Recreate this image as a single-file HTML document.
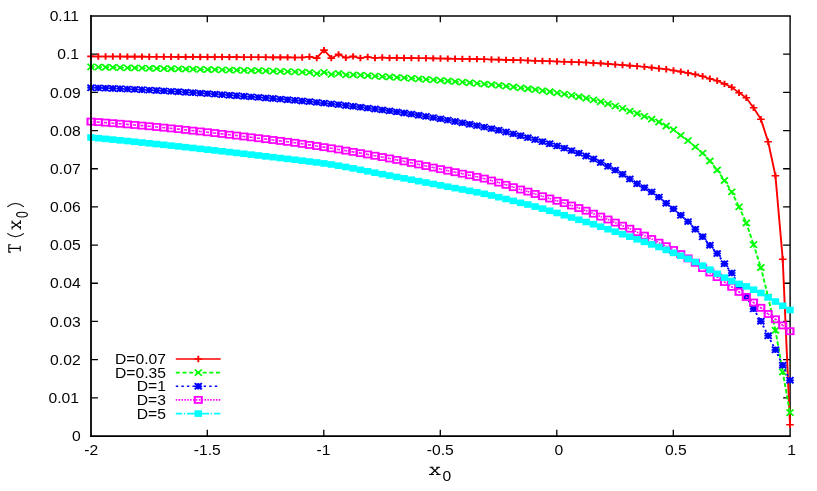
<!DOCTYPE html><html><head><meta charset="utf-8"><title>T(x0) plot</title>
<style>html,body{margin:0;padding:0;background:#fff}svg{display:block}text{font-family:"Liberation Sans",sans-serif;font-size:14px;fill:#000}</style></head><body>
<svg width="817" height="491" viewBox="0 0 817 491">
<rect width="817" height="491" fill="#fff"/>
<defs>
<g id="pl"><path d="M-3.17,0H3.17M0,-3.2V3.2" fill="none" stroke="#f00" stroke-width="1.6"/></g>
<g id="cr"><path d="M-2.92,-3.1L2.92,3.1M-2.92,3.1L2.92,-3.1" fill="none" stroke="#0f0" stroke-width="1.6"/></g>
<g id="st"><path d="M-3.17,0H3.17M0,-3.2V3.2M-2.92,-3.1L2.92,3.1M-2.92,3.1L2.92,-3.1" fill="none" stroke="#00f" stroke-width="1.7"/></g>
<g id="sq"><rect x="-2.92" y="-3.05" width="5.83" height="6.1" fill="none" stroke="#f0f" stroke-width="1.75"/></g>
<g id="fs"><rect x="-3.12" y="-3.3" width="6.25" height="6.6" fill="#0ff"/></g>
</defs>
<g stroke="#000" fill="none" stroke-linecap="butt">
<path d="M90.05,16.1H790.8" stroke-width="1.5"/>
<path d="M90.05,436.1H790.8" stroke-width="1.55"/>
<path d="M790.1,16.0V436.0" stroke-width="1.4"/>
<path d="M91.0,397.82h6.9 M790.0,397.82h-6.9 M91.0,359.64h6.9 M790.0,359.64h-6.9 M91.0,321.45h6.9 M790.0,321.45h-6.9 M91.0,283.27h6.9 M790.0,283.27h-6.9 M91.0,245.09h6.9 M790.0,245.09h-6.9 M91.0,206.91h6.9 M790.0,206.91h-6.9 M91.0,168.73h6.9 M790.0,168.73h-6.9 M91.0,130.55h6.9 M790.0,130.55h-6.9 M91.0,92.36h6.9 M790.0,92.36h-6.9 M91.0,54.18h6.9 M790.0,54.18h-6.9 M207.3,436.0v-6.3 M207.3,16.0v6.3 M323.8,436.0v-6.3 M323.8,16.0v6.3 M440.3,436.0v-6.3 M440.3,16.0v6.3 M556.8,436.0v-6.3 M556.8,16.0v6.3 M673.3,436.0v-6.3 M673.3,16.0v6.3 " stroke-width="1.3"/>
</g>
<g transform="scale(1.2,1)">
<polyline points="75.83,56.4 81.9,56.44 87.97,56.47 94.04,56.51 100.1,56.54 106.17,56.58 112.24,56.62 118.31,56.65 124.38,56.69 130.44,56.73 136.51,56.77 142.58,56.8 148.65,56.84 154.71,56.88 160.78,56.92 166.85,56.95 172.92,56.99 178.98,57.03 185.05,57.07 191.12,57.11 197.19,57.15 203.26,57.18 209.32,57.22 215.39,57.26 221.46,57.3 227.53,57.34 233.59,57.38 239.66,57.41 245.73,57.45 251.8,57.48 257.86,56.7 263.93,58.1 270,50.1 276.07,58.1 282.14,54.4 288.2,57.8 294.27,56.4 300.34,58 306.41,57 312.47,58 318.54,57.5 324.61,58 330.68,57.8 336.74,58.07 342.81,58.14 348.88,58.23 354.95,58.32 361.02,58.42 367.08,58.52 373.15,58.63 379.22,58.75 385.29,58.88 391.35,59.01 397.42,59.14 403.49,59.28 409.56,59.44 415.62,59.63 421.69,59.85 427.76,60.08 433.83,60.32 439.9,60.57 445.96,60.8 452.03,61.03 458.1,61.25 464.17,61.47 470.23,61.7 476.3,61.95 482.37,62.23 488.44,62.55 494.51,62.94 500.57,63.4 506.64,63.91 512.71,64.45 518.78,65 524.84,65.6 530.91,66.2 536.98,66.8 543.05,67.6 549.11,68.5 555.18,69.3 561.25,70.5 567.32,71.6 573.39,73 579.45,74.4 585.52,76.2 591.59,78.7 597.66,80.7 603.72,83.9 609.79,87.3 615.86,92.7 621.93,97.8 627.99,107.8 634.06,119.2 640.13,141.8 646.2,175.7 652.27,259.2 658.33,424.7" fill="none" stroke="#f00" stroke-width="1.6" stroke-linejoin="round"/>
<g><use href="#pl" x="75.83" y="56.4"/><use href="#pl" x="81.9" y="56.44"/><use href="#pl" x="87.97" y="56.47"/><use href="#pl" x="94.04" y="56.51"/><use href="#pl" x="100.1" y="56.54"/><use href="#pl" x="106.17" y="56.58"/><use href="#pl" x="112.24" y="56.62"/><use href="#pl" x="118.31" y="56.65"/><use href="#pl" x="124.38" y="56.69"/><use href="#pl" x="130.44" y="56.73"/><use href="#pl" x="136.51" y="56.77"/><use href="#pl" x="142.58" y="56.8"/><use href="#pl" x="148.65" y="56.84"/><use href="#pl" x="154.71" y="56.88"/><use href="#pl" x="160.78" y="56.92"/><use href="#pl" x="166.85" y="56.95"/><use href="#pl" x="172.92" y="56.99"/><use href="#pl" x="178.98" y="57.03"/><use href="#pl" x="185.05" y="57.07"/><use href="#pl" x="191.12" y="57.11"/><use href="#pl" x="197.19" y="57.15"/><use href="#pl" x="203.26" y="57.18"/><use href="#pl" x="209.32" y="57.22"/><use href="#pl" x="215.39" y="57.26"/><use href="#pl" x="221.46" y="57.3"/><use href="#pl" x="227.53" y="57.34"/><use href="#pl" x="233.59" y="57.38"/><use href="#pl" x="239.66" y="57.41"/><use href="#pl" x="245.73" y="57.45"/><use href="#pl" x="251.8" y="57.48"/><use href="#pl" x="257.86" y="56.7"/><use href="#pl" x="263.93" y="58.1"/><use href="#pl" x="270" y="50.1"/><use href="#pl" x="276.07" y="58.1"/><use href="#pl" x="282.14" y="54.4"/><use href="#pl" x="288.2" y="57.8"/><use href="#pl" x="294.27" y="56.4"/><use href="#pl" x="300.34" y="58"/><use href="#pl" x="306.41" y="57"/><use href="#pl" x="312.47" y="58"/><use href="#pl" x="318.54" y="57.5"/><use href="#pl" x="324.61" y="58"/><use href="#pl" x="330.68" y="57.8"/><use href="#pl" x="336.74" y="58.07"/><use href="#pl" x="342.81" y="58.14"/><use href="#pl" x="348.88" y="58.23"/><use href="#pl" x="354.95" y="58.32"/><use href="#pl" x="361.02" y="58.42"/><use href="#pl" x="367.08" y="58.52"/><use href="#pl" x="373.15" y="58.63"/><use href="#pl" x="379.22" y="58.75"/><use href="#pl" x="385.29" y="58.88"/><use href="#pl" x="391.35" y="59.01"/><use href="#pl" x="397.42" y="59.14"/><use href="#pl" x="403.49" y="59.28"/><use href="#pl" x="409.56" y="59.44"/><use href="#pl" x="415.62" y="59.63"/><use href="#pl" x="421.69" y="59.85"/><use href="#pl" x="427.76" y="60.08"/><use href="#pl" x="433.83" y="60.32"/><use href="#pl" x="439.9" y="60.57"/><use href="#pl" x="445.96" y="60.8"/><use href="#pl" x="452.03" y="61.03"/><use href="#pl" x="458.1" y="61.25"/><use href="#pl" x="464.17" y="61.47"/><use href="#pl" x="470.23" y="61.7"/><use href="#pl" x="476.3" y="61.95"/><use href="#pl" x="482.37" y="62.23"/><use href="#pl" x="488.44" y="62.55"/><use href="#pl" x="494.51" y="62.94"/><use href="#pl" x="500.57" y="63.4"/><use href="#pl" x="506.64" y="63.91"/><use href="#pl" x="512.71" y="64.45"/><use href="#pl" x="518.78" y="65"/><use href="#pl" x="524.84" y="65.6"/><use href="#pl" x="530.91" y="66.2"/><use href="#pl" x="536.98" y="66.8"/><use href="#pl" x="543.05" y="67.6"/><use href="#pl" x="549.11" y="68.5"/><use href="#pl" x="555.18" y="69.3"/><use href="#pl" x="561.25" y="70.5"/><use href="#pl" x="567.32" y="71.6"/><use href="#pl" x="573.39" y="73"/><use href="#pl" x="579.45" y="74.4"/><use href="#pl" x="585.52" y="76.2"/><use href="#pl" x="591.59" y="78.7"/><use href="#pl" x="597.66" y="80.7"/><use href="#pl" x="603.72" y="83.9"/><use href="#pl" x="609.79" y="87.3"/><use href="#pl" x="615.86" y="92.7"/><use href="#pl" x="621.93" y="97.8"/><use href="#pl" x="627.99" y="107.8"/><use href="#pl" x="634.06" y="119.2"/><use href="#pl" x="640.13" y="141.8"/><use href="#pl" x="646.2" y="175.7"/><use href="#pl" x="652.27" y="259.2"/><use href="#pl" x="658.33" y="424.7"/></g>
<path d="M75.83,66.9L81.9,67.08M81.9,67.08L87.97,67.26M87.97,67.26L94.04,67.43M94.04,67.43L100.1,67.61M100.1,67.61L106.17,67.78M106.17,67.78L112.24,67.95M112.24,67.95L118.31,68.12M118.31,68.12L124.38,68.28M124.38,68.28L130.44,68.45M130.44,68.45L136.51,68.6M136.51,68.6L142.58,68.76M142.58,68.76L148.65,68.91M148.65,68.91L154.71,69.06M154.71,69.06L160.78,69.22M160.78,69.22L166.85,69.38M166.85,69.38L172.92,69.54M172.92,69.54L178.98,69.71M178.98,69.71L185.05,69.87M185.05,69.87L191.12,70.04M191.12,70.04L197.19,70.2M197.19,70.2L203.26,70.37M203.26,70.37L209.32,70.54M209.32,70.54L215.39,70.72M215.39,70.72L221.46,70.92M221.46,70.92L227.53,71.12M227.53,71.12L233.59,71.35M233.59,71.35L239.66,71.59M239.66,71.59L245.73,71.86M245.73,71.86L251.8,72.15M251.8,72.15L257.86,72.47M257.86,72.47L263.93,73.61M263.93,73.61L270,72.28M270,72.28L276.07,74.46M276.07,74.46L282.14,73.45M282.14,73.45L288.2,74.96M288.2,74.96L294.27,74.78M294.27,74.78L300.34,75.21M300.34,75.21L306.41,75.65M306.41,75.65L312.47,76.09M312.47,76.09L318.54,76.53M318.54,76.53L324.61,76.98M324.61,76.98L330.68,77.43M330.68,77.43L336.74,77.9M336.74,77.9L342.81,78.38M342.81,78.38L348.88,78.87M348.88,78.87L354.95,79.37M354.95,79.37L361.02,79.89M361.02,79.89L367.08,80.43M367.08,80.43L373.15,80.98M373.15,80.98L379.22,81.55M379.22,81.55L385.29,82.14M385.29,82.14L391.35,82.75M391.35,82.75L397.42,83.38M397.42,83.38L403.49,84.03M403.49,84.03L409.56,84.71M409.56,84.71L415.62,85.43M415.62,85.43L421.69,86.2M421.69,86.2L427.76,87.01M427.76,87.01L433.83,87.87M433.83,87.87L439.9,88.77M439.9,88.77L445.96,89.72M445.96,89.72L452.03,90.72M452.03,90.72L458.1,91.77M458.1,91.77L464.17,92.89M464.17,92.89L470.23,94.09M470.23,94.09L476.3,95.37M476.3,95.37L482.37,96.75M482.37,96.75L488.44,98.24M488.44,98.24L494.51,99.91M494.51,99.91L500.57,101.77M500.57,101.77L506.64,103.82M506.64,103.82L512.71,106.04M512.71,106.04L518.78,108.4M518.78,108.4L524.84,111.2M524.84,111.2L530.91,113.5M530.91,113.5L536.98,116.3M536.98,116.3L543.05,119.2M543.05,119.2L549.11,122M549.11,122L555.18,126M555.18,126L561.25,129.7M561.25,129.7L567.32,135.4M567.32,135.4L573.39,140.6M573.39,140.6L579.45,146.9M579.45,146.9L585.52,153.1M585.52,153.1L591.59,161M591.59,161L597.66,170M597.66,170L603.72,180.5M603.72,180.5L609.79,191.9M609.79,191.9L615.86,206.9M615.86,206.9L621.93,223M621.93,223L627.99,244.6M627.99,244.6L634.06,267.5M634.06,267.5L640.13,297M640.13,297L646.2,330.3M646.2,330.3L652.27,372M652.27,372L658.33,412.6" fill="none" stroke="#0f0" stroke-width="1.6" stroke-dasharray="4.2 2" stroke-dashoffset="1.2"/>
<g><use href="#cr" x="75.83" y="66.9"/><use href="#cr" x="81.9" y="67.08"/><use href="#cr" x="87.97" y="67.26"/><use href="#cr" x="94.04" y="67.43"/><use href="#cr" x="100.1" y="67.61"/><use href="#cr" x="106.17" y="67.78"/><use href="#cr" x="112.24" y="67.95"/><use href="#cr" x="118.31" y="68.12"/><use href="#cr" x="124.38" y="68.28"/><use href="#cr" x="130.44" y="68.45"/><use href="#cr" x="136.51" y="68.6"/><use href="#cr" x="142.58" y="68.76"/><use href="#cr" x="148.65" y="68.91"/><use href="#cr" x="154.71" y="69.06"/><use href="#cr" x="160.78" y="69.22"/><use href="#cr" x="166.85" y="69.38"/><use href="#cr" x="172.92" y="69.54"/><use href="#cr" x="178.98" y="69.71"/><use href="#cr" x="185.05" y="69.87"/><use href="#cr" x="191.12" y="70.04"/><use href="#cr" x="197.19" y="70.2"/><use href="#cr" x="203.26" y="70.37"/><use href="#cr" x="209.32" y="70.54"/><use href="#cr" x="215.39" y="70.72"/><use href="#cr" x="221.46" y="70.92"/><use href="#cr" x="227.53" y="71.12"/><use href="#cr" x="233.59" y="71.35"/><use href="#cr" x="239.66" y="71.59"/><use href="#cr" x="245.73" y="71.86"/><use href="#cr" x="251.8" y="72.15"/><use href="#cr" x="257.86" y="72.47"/><use href="#cr" x="263.93" y="73.61"/><use href="#cr" x="270" y="72.28"/><use href="#cr" x="276.07" y="74.46"/><use href="#cr" x="282.14" y="73.45"/><use href="#cr" x="288.2" y="74.96"/><use href="#cr" x="294.27" y="74.78"/><use href="#cr" x="300.34" y="75.21"/><use href="#cr" x="306.41" y="75.65"/><use href="#cr" x="312.47" y="76.09"/><use href="#cr" x="318.54" y="76.53"/><use href="#cr" x="324.61" y="76.98"/><use href="#cr" x="330.68" y="77.43"/><use href="#cr" x="336.74" y="77.9"/><use href="#cr" x="342.81" y="78.38"/><use href="#cr" x="348.88" y="78.87"/><use href="#cr" x="354.95" y="79.37"/><use href="#cr" x="361.02" y="79.89"/><use href="#cr" x="367.08" y="80.43"/><use href="#cr" x="373.15" y="80.98"/><use href="#cr" x="379.22" y="81.55"/><use href="#cr" x="385.29" y="82.14"/><use href="#cr" x="391.35" y="82.75"/><use href="#cr" x="397.42" y="83.38"/><use href="#cr" x="403.49" y="84.03"/><use href="#cr" x="409.56" y="84.71"/><use href="#cr" x="415.62" y="85.43"/><use href="#cr" x="421.69" y="86.2"/><use href="#cr" x="427.76" y="87.01"/><use href="#cr" x="433.83" y="87.87"/><use href="#cr" x="439.9" y="88.77"/><use href="#cr" x="445.96" y="89.72"/><use href="#cr" x="452.03" y="90.72"/><use href="#cr" x="458.1" y="91.77"/><use href="#cr" x="464.17" y="92.89"/><use href="#cr" x="470.23" y="94.09"/><use href="#cr" x="476.3" y="95.37"/><use href="#cr" x="482.37" y="96.75"/><use href="#cr" x="488.44" y="98.24"/><use href="#cr" x="494.51" y="99.91"/><use href="#cr" x="500.57" y="101.77"/><use href="#cr" x="506.64" y="103.82"/><use href="#cr" x="512.71" y="106.04"/><use href="#cr" x="518.78" y="108.4"/><use href="#cr" x="524.84" y="111.2"/><use href="#cr" x="530.91" y="113.5"/><use href="#cr" x="536.98" y="116.3"/><use href="#cr" x="543.05" y="119.2"/><use href="#cr" x="549.11" y="122"/><use href="#cr" x="555.18" y="126"/><use href="#cr" x="561.25" y="129.7"/><use href="#cr" x="567.32" y="135.4"/><use href="#cr" x="573.39" y="140.6"/><use href="#cr" x="579.45" y="146.9"/><use href="#cr" x="585.52" y="153.1"/><use href="#cr" x="591.59" y="161"/><use href="#cr" x="597.66" y="170"/><use href="#cr" x="603.72" y="180.5"/><use href="#cr" x="609.79" y="191.9"/><use href="#cr" x="615.86" y="206.9"/><use href="#cr" x="621.93" y="223"/><use href="#cr" x="627.99" y="244.6"/><use href="#cr" x="634.06" y="267.5"/><use href="#cr" x="640.13" y="297"/><use href="#cr" x="646.2" y="330.3"/><use href="#cr" x="652.27" y="372"/><use href="#cr" x="658.33" y="412.6"/></g>
<path d="M75.83,87.7L81.9,87.93M81.9,87.93L87.97,88.18M87.97,88.18L94.04,88.45M94.04,88.45L100.1,88.74M100.1,88.74L106.17,89.06M106.17,89.06L112.24,89.39M112.24,89.39L118.31,89.75M118.31,89.75L124.38,90.12M124.38,90.12L130.44,90.51M130.44,90.51L136.51,90.91M136.51,90.91L142.58,91.34M142.58,91.34L148.65,91.77M148.65,91.77L154.71,92.23M154.71,92.23L160.78,92.69M160.78,92.69L166.85,93.17M166.85,93.17L172.92,93.67M172.92,93.67L178.98,94.17M178.98,94.17L185.05,94.69M185.05,94.69L191.12,95.21M191.12,95.21L197.19,95.75M197.19,95.75L203.26,96.29M203.26,96.29L209.32,96.84M209.32,96.84L215.39,97.41M215.39,97.41L221.46,97.97M221.46,97.97L227.53,98.55M227.53,98.55L233.59,99.12M233.59,99.12L239.66,99.71M239.66,99.71L245.73,100.32M245.73,100.32L251.8,100.97M251.8,100.97L257.86,101.64M257.86,101.64L263.93,102.35M263.93,102.35L270,103.09M270,103.09L276.07,103.85M276.07,103.85L282.14,104.64M282.14,104.64L288.2,105.46M288.2,105.46L294.27,106.31M294.27,106.31L300.34,107.18M300.34,107.18L306.41,108.08M306.41,108.08L312.47,109M312.47,109L318.54,109.94M318.54,109.94L324.61,110.91M324.61,110.91L330.68,111.92M330.68,111.92L336.74,112.97M336.74,112.97L342.81,114.06M342.81,114.06L348.88,115.2M348.88,115.2L354.95,116.37M354.95,116.37L361.02,117.58M361.02,117.58L367.08,118.84M367.08,118.84L373.15,120.13M373.15,120.13L379.22,121.45M379.22,121.45L385.29,122.82M385.29,122.82L391.35,124.22M391.35,124.22L397.42,125.66M397.42,125.66L403.49,127.13M403.49,127.13L409.56,128.67M409.56,128.67L415.62,130.3M415.62,130.3L421.69,132.02M421.69,132.02L427.76,133.83M427.76,133.83L433.83,135.71M433.83,135.71L439.9,137.65M439.9,137.65L445.96,139.64M445.96,139.64L452.03,141.68M452.03,141.68L458.1,143.75M458.1,143.75L464.17,145.91M464.17,145.91L470.23,148.17M470.23,148.17L476.3,150.58M476.3,150.58L482.37,153.16M482.37,153.16L488.44,155.95M488.44,155.95L494.51,159.05M494.51,159.05L500.57,162.48M500.57,162.48L506.64,166.2M506.64,166.2L512.71,170.15M512.71,170.15L518.78,174.3M518.78,174.3L524.84,179M524.84,179L530.91,183.7M530.91,183.7L536.98,187.7M536.98,187.7L543.05,191.9M543.05,191.9L549.11,197.1M549.11,197.1L555.18,203.3M555.18,203.3L561.25,208.9M561.25,208.9L567.32,215.2M567.32,215.2L573.39,221.6M573.39,221.6L579.45,229.3M579.45,229.3L585.52,236.7M585.52,236.7L591.59,245.3M591.59,245.3L597.66,253.5M597.66,253.5L603.72,263.8M603.72,263.8L609.79,273M609.79,273L615.86,285.5M615.86,285.5L621.93,296.5M621.93,296.5L627.99,308.9M627.99,308.9L634.06,321.3M634.06,321.3L640.13,335.7M640.13,335.7L646.2,349.8M646.2,349.8L652.27,365.3M652.27,365.3L658.33,380.3" fill="none" stroke="#00f" stroke-width="1.6" stroke-dasharray="2 2.67" stroke-dashoffset="0"/>
<g><use href="#st" x="75.83" y="87.7"/><use href="#st" x="81.9" y="87.93"/><use href="#st" x="87.97" y="88.18"/><use href="#st" x="94.04" y="88.45"/><use href="#st" x="100.1" y="88.74"/><use href="#st" x="106.17" y="89.06"/><use href="#st" x="112.24" y="89.39"/><use href="#st" x="118.31" y="89.75"/><use href="#st" x="124.38" y="90.12"/><use href="#st" x="130.44" y="90.51"/><use href="#st" x="136.51" y="90.91"/><use href="#st" x="142.58" y="91.34"/><use href="#st" x="148.65" y="91.77"/><use href="#st" x="154.71" y="92.23"/><use href="#st" x="160.78" y="92.69"/><use href="#st" x="166.85" y="93.17"/><use href="#st" x="172.92" y="93.67"/><use href="#st" x="178.98" y="94.17"/><use href="#st" x="185.05" y="94.69"/><use href="#st" x="191.12" y="95.21"/><use href="#st" x="197.19" y="95.75"/><use href="#st" x="203.26" y="96.29"/><use href="#st" x="209.32" y="96.84"/><use href="#st" x="215.39" y="97.41"/><use href="#st" x="221.46" y="97.97"/><use href="#st" x="227.53" y="98.55"/><use href="#st" x="233.59" y="99.12"/><use href="#st" x="239.66" y="99.71"/><use href="#st" x="245.73" y="100.32"/><use href="#st" x="251.8" y="100.97"/><use href="#st" x="257.86" y="101.64"/><use href="#st" x="263.93" y="102.35"/><use href="#st" x="270" y="103.09"/><use href="#st" x="276.07" y="103.85"/><use href="#st" x="282.14" y="104.64"/><use href="#st" x="288.2" y="105.46"/><use href="#st" x="294.27" y="106.31"/><use href="#st" x="300.34" y="107.18"/><use href="#st" x="306.41" y="108.08"/><use href="#st" x="312.47" y="109"/><use href="#st" x="318.54" y="109.94"/><use href="#st" x="324.61" y="110.91"/><use href="#st" x="330.68" y="111.92"/><use href="#st" x="336.74" y="112.97"/><use href="#st" x="342.81" y="114.06"/><use href="#st" x="348.88" y="115.2"/><use href="#st" x="354.95" y="116.37"/><use href="#st" x="361.02" y="117.58"/><use href="#st" x="367.08" y="118.84"/><use href="#st" x="373.15" y="120.13"/><use href="#st" x="379.22" y="121.45"/><use href="#st" x="385.29" y="122.82"/><use href="#st" x="391.35" y="124.22"/><use href="#st" x="397.42" y="125.66"/><use href="#st" x="403.49" y="127.13"/><use href="#st" x="409.56" y="128.67"/><use href="#st" x="415.62" y="130.3"/><use href="#st" x="421.69" y="132.02"/><use href="#st" x="427.76" y="133.83"/><use href="#st" x="433.83" y="135.71"/><use href="#st" x="439.9" y="137.65"/><use href="#st" x="445.96" y="139.64"/><use href="#st" x="452.03" y="141.68"/><use href="#st" x="458.1" y="143.75"/><use href="#st" x="464.17" y="145.91"/><use href="#st" x="470.23" y="148.17"/><use href="#st" x="476.3" y="150.58"/><use href="#st" x="482.37" y="153.16"/><use href="#st" x="488.44" y="155.95"/><use href="#st" x="494.51" y="159.05"/><use href="#st" x="500.57" y="162.48"/><use href="#st" x="506.64" y="166.2"/><use href="#st" x="512.71" y="170.15"/><use href="#st" x="518.78" y="174.3"/><use href="#st" x="524.84" y="179"/><use href="#st" x="530.91" y="183.7"/><use href="#st" x="536.98" y="187.7"/><use href="#st" x="543.05" y="191.9"/><use href="#st" x="549.11" y="197.1"/><use href="#st" x="555.18" y="203.3"/><use href="#st" x="561.25" y="208.9"/><use href="#st" x="567.32" y="215.2"/><use href="#st" x="573.39" y="221.6"/><use href="#st" x="579.45" y="229.3"/><use href="#st" x="585.52" y="236.7"/><use href="#st" x="591.59" y="245.3"/><use href="#st" x="597.66" y="253.5"/><use href="#st" x="603.72" y="263.8"/><use href="#st" x="609.79" y="273"/><use href="#st" x="615.86" y="285.5"/><use href="#st" x="621.93" y="296.5"/><use href="#st" x="627.99" y="308.9"/><use href="#st" x="634.06" y="321.3"/><use href="#st" x="640.13" y="335.7"/><use href="#st" x="646.2" y="349.8"/><use href="#st" x="652.27" y="365.3"/><use href="#st" x="658.33" y="380.3"/></g>
<path d="M75.83,121.6L81.9,122.1M81.9,122.1L87.97,122.62M87.97,122.62L94.04,123.18M94.04,123.18L100.1,123.75M100.1,123.75L106.17,124.35M106.17,124.35L112.24,124.97M112.24,124.97L118.31,125.61M118.31,125.61L124.38,126.28M124.38,126.28L130.44,126.96M130.44,126.96L136.51,127.66M136.51,127.66L142.58,128.39M142.58,128.39L148.65,129.13M148.65,129.13L154.71,129.88M154.71,129.88L160.78,130.66M160.78,130.66L166.85,131.45M166.85,131.45L172.92,132.25M172.92,132.25L178.98,133.07M178.98,133.07L185.05,133.9M185.05,133.9L191.12,134.74M191.12,134.74L197.19,135.59M197.19,135.59L203.26,136.46M203.26,136.46L209.32,137.33M209.32,137.33L215.39,138.22M215.39,138.22L221.46,139.11M221.46,139.11L227.53,140.01M227.53,140.01L233.59,140.91M233.59,140.91L239.66,141.83M239.66,141.83L245.73,142.8M245.73,142.8L251.8,143.83M251.8,143.83L257.86,144.91M257.86,144.91L263.93,146.02M263.93,146.02L270,147.15M270,147.15L276.07,148.3M276.07,148.3L282.14,149.47M282.14,149.47L288.2,150.67M288.2,150.67L294.27,151.89M294.27,151.89L300.34,153.14M300.34,153.14L306.41,154.43M306.41,154.43L312.47,155.74M312.47,155.74L318.54,157.08M318.54,157.08L324.61,158.47M324.61,158.47L330.68,159.9M330.68,159.9L336.74,161.38M336.74,161.38L342.81,162.9M342.81,162.9L348.88,164.44M348.88,164.44L354.95,166M354.95,166L361.02,167.57M361.02,167.57L367.08,169.14M367.08,169.14L373.15,170.69M373.15,170.69L379.22,172.2M379.22,172.2L385.29,173.7M385.29,173.7L391.35,175.23M391.35,175.23L397.42,176.85M397.42,176.85L403.49,178.6M403.49,178.6L409.56,180.52M409.56,180.52L415.62,182.61M415.62,182.61L421.69,184.84M421.69,184.84L427.76,187.16M427.76,187.16L433.83,189.53M433.83,189.53L439.9,191.61M439.9,191.61L445.96,193.95M445.96,193.95L452.03,196.24M452.03,196.24L458.1,198.51M458.1,198.51L464.17,200.8M464.17,200.8L470.23,203.12M470.23,203.12L476.3,205.53M476.3,205.53L482.37,208.04M482.37,208.04L488.44,210.7M488.44,210.7L494.51,213.7M494.51,213.7L500.57,216.6M500.57,216.6L506.64,219.5M506.64,219.5L512.71,222.6M512.71,222.6L518.78,225.7M518.78,225.7L524.84,228.7M524.84,228.7L530.91,232.1M530.91,232.1L536.98,235.6M536.98,235.6L543.05,239M543.05,239L549.11,242.7M549.11,242.7L555.18,246.2M555.18,246.2L561.25,250M561.25,250L567.32,254.1M567.32,254.1L573.39,258.4M573.39,258.4L579.45,262.8M579.45,262.8L585.52,268.1M585.52,268.1L591.59,272.5M591.59,272.5L597.66,277.1M597.66,277.1L603.72,282M603.72,282L609.79,286.8M609.79,286.8L615.86,291.9M615.86,291.9L621.93,297M621.93,297L627.99,302.5M627.99,302.5L634.06,307.8M634.06,307.8L640.13,314M640.13,314L646.2,319.3M646.2,319.3L652.27,325.4M652.27,325.4L658.33,331.2" fill="none" stroke="#f0f" stroke-width="1.6" stroke-dasharray="1.25 1.14" stroke-dashoffset="0"/>
<g><use href="#sq" x="75.83" y="121.6"/><use href="#sq" x="81.9" y="122.1"/><use href="#sq" x="87.97" y="122.62"/><use href="#sq" x="94.04" y="123.18"/><use href="#sq" x="100.1" y="123.75"/><use href="#sq" x="106.17" y="124.35"/><use href="#sq" x="112.24" y="124.97"/><use href="#sq" x="118.31" y="125.61"/><use href="#sq" x="124.38" y="126.28"/><use href="#sq" x="130.44" y="126.96"/><use href="#sq" x="136.51" y="127.66"/><use href="#sq" x="142.58" y="128.39"/><use href="#sq" x="148.65" y="129.13"/><use href="#sq" x="154.71" y="129.88"/><use href="#sq" x="160.78" y="130.66"/><use href="#sq" x="166.85" y="131.45"/><use href="#sq" x="172.92" y="132.25"/><use href="#sq" x="178.98" y="133.07"/><use href="#sq" x="185.05" y="133.9"/><use href="#sq" x="191.12" y="134.74"/><use href="#sq" x="197.19" y="135.59"/><use href="#sq" x="203.26" y="136.46"/><use href="#sq" x="209.32" y="137.33"/><use href="#sq" x="215.39" y="138.22"/><use href="#sq" x="221.46" y="139.11"/><use href="#sq" x="227.53" y="140.01"/><use href="#sq" x="233.59" y="140.91"/><use href="#sq" x="239.66" y="141.83"/><use href="#sq" x="245.73" y="142.8"/><use href="#sq" x="251.8" y="143.83"/><use href="#sq" x="257.86" y="144.91"/><use href="#sq" x="263.93" y="146.02"/><use href="#sq" x="270" y="147.15"/><use href="#sq" x="276.07" y="148.3"/><use href="#sq" x="282.14" y="149.47"/><use href="#sq" x="288.2" y="150.67"/><use href="#sq" x="294.27" y="151.89"/><use href="#sq" x="300.34" y="153.14"/><use href="#sq" x="306.41" y="154.43"/><use href="#sq" x="312.47" y="155.74"/><use href="#sq" x="318.54" y="157.08"/><use href="#sq" x="324.61" y="158.47"/><use href="#sq" x="330.68" y="159.9"/><use href="#sq" x="336.74" y="161.38"/><use href="#sq" x="342.81" y="162.9"/><use href="#sq" x="348.88" y="164.44"/><use href="#sq" x="354.95" y="166"/><use href="#sq" x="361.02" y="167.57"/><use href="#sq" x="367.08" y="169.14"/><use href="#sq" x="373.15" y="170.69"/><use href="#sq" x="379.22" y="172.2"/><use href="#sq" x="385.29" y="173.7"/><use href="#sq" x="391.35" y="175.23"/><use href="#sq" x="397.42" y="176.85"/><use href="#sq" x="403.49" y="178.6"/><use href="#sq" x="409.56" y="180.52"/><use href="#sq" x="415.62" y="182.61"/><use href="#sq" x="421.69" y="184.84"/><use href="#sq" x="427.76" y="187.16"/><use href="#sq" x="433.83" y="189.53"/><use href="#sq" x="439.9" y="191.61"/><use href="#sq" x="445.96" y="193.95"/><use href="#sq" x="452.03" y="196.24"/><use href="#sq" x="458.1" y="198.51"/><use href="#sq" x="464.17" y="200.8"/><use href="#sq" x="470.23" y="203.12"/><use href="#sq" x="476.3" y="205.53"/><use href="#sq" x="482.37" y="208.04"/><use href="#sq" x="488.44" y="210.7"/><use href="#sq" x="494.51" y="213.7"/><use href="#sq" x="500.57" y="216.6"/><use href="#sq" x="506.64" y="219.5"/><use href="#sq" x="512.71" y="222.6"/><use href="#sq" x="518.78" y="225.7"/><use href="#sq" x="524.84" y="228.7"/><use href="#sq" x="530.91" y="232.1"/><use href="#sq" x="536.98" y="235.6"/><use href="#sq" x="543.05" y="239"/><use href="#sq" x="549.11" y="242.7"/><use href="#sq" x="555.18" y="246.2"/><use href="#sq" x="561.25" y="250"/><use href="#sq" x="567.32" y="254.1"/><use href="#sq" x="573.39" y="258.4"/><use href="#sq" x="579.45" y="262.8"/><use href="#sq" x="585.52" y="268.1"/><use href="#sq" x="591.59" y="272.5"/><use href="#sq" x="597.66" y="277.1"/><use href="#sq" x="603.72" y="282"/><use href="#sq" x="609.79" y="286.8"/><use href="#sq" x="615.86" y="291.9"/><use href="#sq" x="621.93" y="297"/><use href="#sq" x="627.99" y="302.5"/><use href="#sq" x="634.06" y="307.8"/><use href="#sq" x="640.13" y="314"/><use href="#sq" x="646.2" y="319.3"/><use href="#sq" x="652.27" y="325.4"/><use href="#sq" x="658.33" y="331.2"/></g>
<path d="M75.83,137.5L81.9,138.19M81.9,138.19L87.97,138.89M87.97,138.89L94.04,139.6M94.04,139.6L100.1,140.32M100.1,140.32L106.17,141.05M106.17,141.05L112.24,141.79M112.24,141.79L118.31,142.54M118.31,142.54L124.38,143.3M124.38,143.3L130.44,144.06M130.44,144.06L136.51,144.83M136.51,144.83L142.58,145.61M142.58,145.61L148.65,146.4M148.65,146.4L154.71,147.19M154.71,147.19L160.78,148M160.78,148L166.85,148.8M166.85,148.8L172.92,149.62M172.92,149.62L178.98,150.44M178.98,150.44L185.05,151.26M185.05,151.26L191.12,152.09M191.12,152.09L197.19,152.93M197.19,152.93L203.26,153.77M203.26,153.77L209.32,154.62M209.32,154.62L215.39,155.47M215.39,155.47L221.46,156.32M221.46,156.32L227.53,157.18M227.53,157.18L233.59,158.04M233.59,158.04L239.66,158.91M239.66,158.91L245.73,159.76M245.73,159.76L251.8,160.62M251.8,160.62L257.86,161.51M257.86,161.51L263.93,162.44M263.93,162.44L270,163.43M270,163.43L276.07,164.5M276.07,164.5L282.14,165.68M282.14,165.68L288.2,166.98M288.2,166.98L294.27,168.37M294.27,168.37L300.34,169.81M300.34,169.81L306.41,171.27M306.41,171.27L312.47,172.74M312.47,172.74L318.54,174.17M318.54,174.17L324.61,175.56M324.61,175.56L330.68,176.95M330.68,176.95L336.74,178.34M336.74,178.34L342.81,179.73M342.81,179.73L348.88,181.13M348.88,181.13L354.95,182.53M354.95,182.53L361.02,183.93M361.02,183.93L367.08,185.33M367.08,185.33L373.15,186.73M373.15,186.73L379.22,188.11M379.22,188.11L385.29,189.47M385.29,189.47L391.35,190.85M391.35,190.85L397.42,192.29M397.42,192.29L403.49,193.82M403.49,193.82L409.56,195.47M409.56,195.47L415.62,197.2M415.62,197.2L421.69,199.02M421.69,199.02L427.76,200.91M427.76,200.91L433.83,202.85M433.83,202.85L439.9,204.53M439.9,204.53L445.96,206.54M445.96,206.54L452.03,208.62M452.03,208.62L458.1,210.77M458.1,210.77L464.17,212.99M464.17,212.99L470.23,215.24M470.23,215.24L476.3,217.51M476.3,217.51L482.37,219.77M482.37,219.77L488.44,222M488.44,222L494.51,224.2M494.51,224.2L500.57,226.7M500.57,226.7L506.64,229.2M506.64,229.2L512.71,231.7M512.71,231.7L518.78,234.2M518.78,234.2L524.84,236.7M524.84,236.7L530.91,239.3M530.91,239.3L536.98,241.9M536.98,241.9L543.05,244.4M543.05,244.4L549.11,247M549.11,247L555.18,249.9M555.18,249.9L561.25,252.9M561.25,252.9L567.32,255.8M567.32,255.8L573.39,258.8M573.39,258.8L579.45,262M579.45,262L585.52,265.67M585.52,265.67L591.59,269.68M591.59,269.68L597.66,273.77M597.66,273.77L603.72,277.66M603.72,277.66L609.79,281.1M609.79,281.1L615.86,283.9M615.86,283.9L621.93,286.4M621.93,286.4L627.99,289.7M627.99,289.7L634.06,293M634.06,293L640.13,297.4M640.13,297.4L646.2,301.5M646.2,301.5L652.27,305.8M652.27,305.8L658.33,310" fill="none" stroke="#0ff" stroke-width="1.6" stroke-dasharray="5.3 1.7 1.2 1.7" stroke-dashoffset="0"/>
<g><use href="#fs" x="75.83" y="137.5"/><use href="#fs" x="81.9" y="138.19"/><use href="#fs" x="87.97" y="138.89"/><use href="#fs" x="94.04" y="139.6"/><use href="#fs" x="100.1" y="140.32"/><use href="#fs" x="106.17" y="141.05"/><use href="#fs" x="112.24" y="141.79"/><use href="#fs" x="118.31" y="142.54"/><use href="#fs" x="124.38" y="143.3"/><use href="#fs" x="130.44" y="144.06"/><use href="#fs" x="136.51" y="144.83"/><use href="#fs" x="142.58" y="145.61"/><use href="#fs" x="148.65" y="146.4"/><use href="#fs" x="154.71" y="147.19"/><use href="#fs" x="160.78" y="148"/><use href="#fs" x="166.85" y="148.8"/><use href="#fs" x="172.92" y="149.62"/><use href="#fs" x="178.98" y="150.44"/><use href="#fs" x="185.05" y="151.26"/><use href="#fs" x="191.12" y="152.09"/><use href="#fs" x="197.19" y="152.93"/><use href="#fs" x="203.26" y="153.77"/><use href="#fs" x="209.32" y="154.62"/><use href="#fs" x="215.39" y="155.47"/><use href="#fs" x="221.46" y="156.32"/><use href="#fs" x="227.53" y="157.18"/><use href="#fs" x="233.59" y="158.04"/><use href="#fs" x="239.66" y="158.91"/><use href="#fs" x="245.73" y="159.76"/><use href="#fs" x="251.8" y="160.62"/><use href="#fs" x="257.86" y="161.51"/><use href="#fs" x="263.93" y="162.44"/><use href="#fs" x="270" y="163.43"/><use href="#fs" x="276.07" y="164.5"/><use href="#fs" x="282.14" y="165.68"/><use href="#fs" x="288.2" y="166.98"/><use href="#fs" x="294.27" y="168.37"/><use href="#fs" x="300.34" y="169.81"/><use href="#fs" x="306.41" y="171.27"/><use href="#fs" x="312.47" y="172.74"/><use href="#fs" x="318.54" y="174.17"/><use href="#fs" x="324.61" y="175.56"/><use href="#fs" x="330.68" y="176.95"/><use href="#fs" x="336.74" y="178.34"/><use href="#fs" x="342.81" y="179.73"/><use href="#fs" x="348.88" y="181.13"/><use href="#fs" x="354.95" y="182.53"/><use href="#fs" x="361.02" y="183.93"/><use href="#fs" x="367.08" y="185.33"/><use href="#fs" x="373.15" y="186.73"/><use href="#fs" x="379.22" y="188.11"/><use href="#fs" x="385.29" y="189.47"/><use href="#fs" x="391.35" y="190.85"/><use href="#fs" x="397.42" y="192.29"/><use href="#fs" x="403.49" y="193.82"/><use href="#fs" x="409.56" y="195.47"/><use href="#fs" x="415.62" y="197.2"/><use href="#fs" x="421.69" y="199.02"/><use href="#fs" x="427.76" y="200.91"/><use href="#fs" x="433.83" y="202.85"/><use href="#fs" x="439.9" y="204.53"/><use href="#fs" x="445.96" y="206.54"/><use href="#fs" x="452.03" y="208.62"/><use href="#fs" x="458.1" y="210.77"/><use href="#fs" x="464.17" y="212.99"/><use href="#fs" x="470.23" y="215.24"/><use href="#fs" x="476.3" y="217.51"/><use href="#fs" x="482.37" y="219.77"/><use href="#fs" x="488.44" y="222"/><use href="#fs" x="494.51" y="224.2"/><use href="#fs" x="500.57" y="226.7"/><use href="#fs" x="506.64" y="229.2"/><use href="#fs" x="512.71" y="231.7"/><use href="#fs" x="518.78" y="234.2"/><use href="#fs" x="524.84" y="236.7"/><use href="#fs" x="530.91" y="239.3"/><use href="#fs" x="536.98" y="241.9"/><use href="#fs" x="543.05" y="244.4"/><use href="#fs" x="549.11" y="247"/><use href="#fs" x="555.18" y="249.9"/><use href="#fs" x="561.25" y="252.9"/><use href="#fs" x="567.32" y="255.8"/><use href="#fs" x="573.39" y="258.8"/><use href="#fs" x="579.45" y="262"/><use href="#fs" x="585.52" y="265.67"/><use href="#fs" x="591.59" y="269.68"/><use href="#fs" x="597.66" y="273.77"/><use href="#fs" x="603.72" y="277.66"/><use href="#fs" x="609.79" y="281.1"/><use href="#fs" x="615.86" y="283.9"/><use href="#fs" x="621.93" y="286.4"/><use href="#fs" x="627.99" y="289.7"/><use href="#fs" x="634.06" y="293"/><use href="#fs" x="640.13" y="297.4"/><use href="#fs" x="646.2" y="301.5"/><use href="#fs" x="652.27" y="305.8"/><use href="#fs" x="658.33" y="310"/></g>
</g>
<path d="M91.0,15.35V436.85" stroke="#000" stroke-width="1.8" fill="none"/>
<g transform="scale(1.2,1)">
<path d="M146.5,359H183.92" stroke="#f00" stroke-width="1.6" fill="none"/>
<use href="#pl" x="165.25" y="359"/>
<path d="M146.5,372.6H183.92" stroke="#0f0" stroke-width="1.6" fill="none" stroke-dasharray="3.33 2.25"/>
<use href="#cr" x="165.25" y="372.6"/>
<path d="M146.5,386.3H181.83" stroke="#00f" stroke-width="1.6" fill="none" stroke-dasharray="2 2.64"/>
<use href="#st" x="165.25" y="386.3"/>
<path d="M146.5,399.9H183.92" stroke="#f0f" stroke-width="1.6" fill="none" stroke-dasharray="1.25 1.14"/>
<use href="#sq" x="165.25" y="399.9"/>
<path d="M146.5,413.6H151.83M153.33,413.6H154.42M155.83,413.6H174.33M175.58,413.6H176.67M178.33,413.6H183.58" stroke="#0ff" stroke-width="1.6" fill="none"/>
<use href="#fs" x="165.25" y="413.6"/>
</g>
<g opacity="0.995">
<text transform="translate(80.6,441.15) scale(1.12,1)" text-anchor="end">0</text>
<text transform="translate(79.0,402.97) scale(1.12,1)" text-anchor="end">0.01</text>
<text transform="translate(80.6,364.79) scale(1.12,1)" text-anchor="end">0.02</text>
<text transform="translate(80.6,326.6) scale(1.12,1)" text-anchor="end">0.03</text>
<text transform="translate(80.6,288.42) scale(1.12,1)" text-anchor="end">0.04</text>
<text transform="translate(80.6,250.24) scale(1.12,1)" text-anchor="end">0.05</text>
<text transform="translate(80.6,212.06) scale(1.12,1)" text-anchor="end">0.06</text>
<text transform="translate(80.6,173.88) scale(1.12,1)" text-anchor="end">0.07</text>
<text transform="translate(80.6,135.7) scale(1.12,1)" text-anchor="end">0.08</text>
<text transform="translate(80.6,97.51) scale(1.12,1)" text-anchor="end">0.09</text>
<text transform="translate(79.0,59.33) scale(1.12,1)" text-anchor="end">0.1</text>
<text transform="translate(79.0,21.15) scale(1.12,1)" text-anchor="end">0.11</text>
<text transform="translate(91.3,454.8) scale(1.12,1)" text-anchor="middle">-2</text>
<text transform="translate(207.3,454.8) scale(1.12,1)" text-anchor="middle">-1.5</text>
<text transform="translate(323.4,454.8) scale(1.12,1)" text-anchor="middle">-1</text>
<text transform="translate(440.3,454.8) scale(1.12,1)" text-anchor="middle">-0.5</text>
<text transform="translate(558.8,454.8) scale(1.12,1)" text-anchor="middle">0</text>
<text transform="translate(675.8,454.8) scale(1.12,1)" text-anchor="middle">0.5</text>
<text transform="translate(791.6,454.8) scale(1.12,1)" text-anchor="middle">1</text>
<text transform="translate(166.0,363.9) scale(1.12,1)" text-anchor="end">D=0.07</text>
<text transform="translate(166.0,377.5) scale(1.12,1)" text-anchor="end">D=0.35</text>
<text transform="translate(166.0,391.2) scale(1.12,1)" text-anchor="end">D=1</text>
<text transform="translate(166.0,404.8) scale(1.12,1)" text-anchor="end">D=3</text>
<text transform="translate(166.0,418.5) scale(1.12,1)" text-anchor="end">D=5</text>
<g fill="none" stroke="#000" stroke-linecap="butt">
<path d="M429.6,467.3H433.5M436.2,467.3H440.1M429,474.4H433.8M436.2,474.4H440.6" stroke-width="1.05"/>
<path d="M431.3,467.3L438.7,474.4M438.5,467.3L430.9,474.4" stroke-width="1.3"/>
</g>
<text transform="translate(442.6,480.7) scale(1.12,1)">0</text>
<g fill="none" stroke="#000" stroke-linecap="butt">
<path d="M8.8,244.3V252.6M8.2,244.8H10.9M8.2,252.1H10.9M8.8,248.4H20.2M20.2,245.7V251.2" stroke-width="1.1"/>
<path d="M7.3,233.4Q15.6,240.2 23.9,233.4" stroke-width="1.1"/>
<path d="M12.1,226.2V229.4M12.1,220.5V223.7M20.4,225.9V229.6M20.4,220.3V224" stroke-width="1.05"/>
<path d="M12.1,227.8L20.4,222.1M12.1,222L20.4,227.9" stroke-width="1.2"/>
<path d="M7.3,206.9Q15.6,200.2 23.9,206.9" stroke-width="1.1"/>
</g>
<text transform="translate(28.0,214.5) rotate(-90) scale(0.88,1.14)" text-anchor="middle">0</text>
</g>
</svg></body></html>
